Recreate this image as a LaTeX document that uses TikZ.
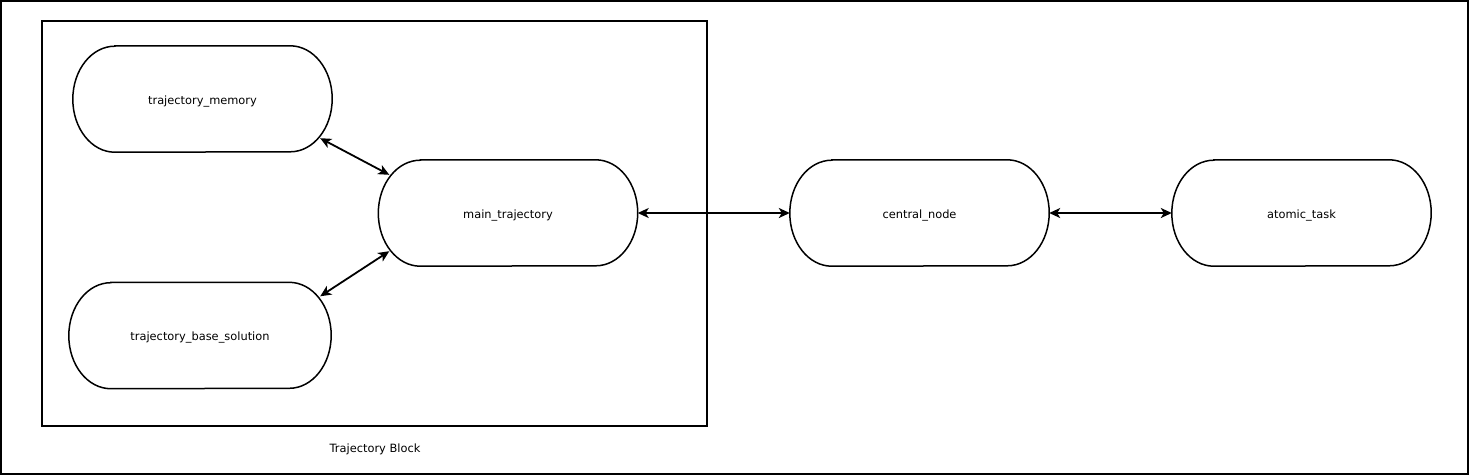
\documentclass[tikz,border=0pt]{standalone}
\usepackage{fontspec}
\setmainfont{DejaVu Sans}
\usetikzlibrary{arrows.meta}
\tikzset{
  stad/.style={minimum width=259pt, minimum height=106pt, inner sep=0pt, text height=10pt, text depth=0pt, font=\fontsize{11.4}{13}\selectfont},
  link/.style={line width=1.8pt, {Stealth[length=11pt,width=10pt,inset=3pt]}-{Stealth[length=11pt,width=10pt,inset=3pt]}},
  box/.style={line width=1.5pt},
}
\newcommand\stadshape[1]{%
  \draw[line width=1.5pt] ([xshift=42pt]#1.north west) -- ([xshift=-42pt]#1.north east)
    arc[start angle=90,end angle=-90,x radius=42pt,y radius=53pt]
    -- ([xshift=42pt]#1.south west)
    arc[start angle=270,end angle=90,x radius=42pt,y radius=53pt] -- cycle;}
\begin{document}
\begin{tikzpicture}[x=1pt,y=-1pt]
\useasboundingbox (0,0) rectangle (1469,475);
\draw[line width=2pt] (1,1) rectangle (1468,474);
\draw[box] (42,21) rectangle (707,426);
\node[font=\fontsize{11.4}{13}\selectfont, text height=10pt, text depth=0pt] (blk) at (375,447) {Trajectory Block};
\node[stad] (mem) at (202.5,99) {trajectory\_memory};
\node[stad] (main) at (508,213) {main\_trajectory};
\node[stad, minimum width=262pt] (base) at (200,335.5) {trajectory\_base\_solution};
\node[stad] (central) at (919.5,213) {central\_node};
\node[stad] (atomic) at (1301.5,213) {atomic\_task};
\stadshape{mem}\stadshape{main}\stadshape{base}\stadshape{central}\stadshape{atomic}
\draw[link] ([shift={(-12,-14)}]mem.south east) -- ([shift={(11,15)}]main.north west);
\draw[link] ([shift={(-11,14)}]base.north east) -- ([shift={(11,-15)}]main.south west);
\draw[link] (main.east) -- (central.west);
\draw[link] (central.east) -- (atomic.west);
\end{tikzpicture}
\end{document}
